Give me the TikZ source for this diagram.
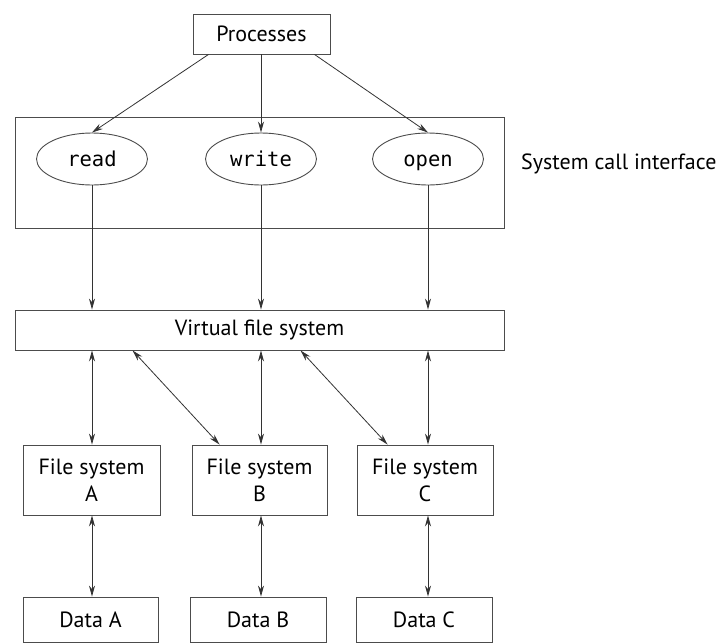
\documentclass[tikz,border=0pt]{standalone}
\usepackage{fontspec}
\setmainfont{PT Sans}
\setmonofont{DejaVu Sans Mono}
\usetikzlibrary{arrows.meta,shapes.geometric}
\tikzset{
  box/.style={draw=black!70,line width=0.9pt,rectangle,inner sep=0pt,align=center,font=\fontsize{22}{27}\selectfont},
  call/.style={draw=black!70,line width=0.9pt,ellipse,inner sep=0pt,minimum width=111pt,minimum height=52pt,text height=15pt,text depth=0pt,font=\ttfamily\fontsize{20.5}{24}\selectfont},
  arr/.style={draw=black!80,line width=0.8pt,-{Stealth[length=11pt,width=6pt]}},
  biarr/.style={draw=black!80,line width=0.8pt,{Stealth[length=11pt,width=6pt]}-{Stealth[length=11pt,width=6pt]}},
  lbl/.style={font=\fontsize{22}{27}\selectfont,anchor=base west,inner sep=0pt}
}
\begin{document}
\begin{tikzpicture}[x=1pt,y=-1pt]
\useasboundingbox (0,0) rectangle (726,643);
\fill[white] (0,0) rectangle (726,643);
\node[box,minimum width=137pt,minimum height=40pt] (proc) at (261.5,34) {Processes};
\node[box,minimum width=489pt,minimum height=111pt] (sci) at (259.5,172.5) {};
\node[call] (read) at (92,159) {read};
\node[call] (write) at (261,159) {write};
\node[call] (open) at (428,159) {open};
\node[lbl] (scil) at (521,169) {System call interface};
\node[box,minimum width=489pt,minimum height=40pt] (vfs) at (259.5,330) {Virtual file system};
\node[box,minimum width=137pt,minimum height=70pt] (fsa) at (91.5,480) {File system\\A};
\node[box,minimum width=135pt,minimum height=70pt] (fsb) at (259.5,480) {File system\\B};
\node[box,minimum width=136pt,minimum height=70pt] (fsc) at (425,480) {File system\\C};
\node[box,minimum width=135pt,minimum height=45pt] (da) at (90.5,619.5) {Data A};
\node[box,minimum width=136pt,minimum height=45pt] (db) at (258,619.5) {Data B};
\node[box,minimum width=136pt,minimum height=45pt] (dc) at (424,619.5) {Data C};
% processes to calls
\draw[arr] ([xshift=-53pt]proc.south) -- (read.north);
\draw[arr] (proc.south -| write.north) -- (write.north);
\draw[arr] ([xshift=53pt]proc.south) -- (open.north);
% calls to vfs
\draw[arr] (read.south) -- (read.south |- vfs.north);
\draw[arr] (write.south) -- (write.south |- vfs.north);
\draw[arr] (open.south) -- (open.south |- vfs.north);
% vfs to file systems
\draw[biarr] (read.south |- vfs.south) -- (read.south |- fsa.north);
\draw[biarr] (write.south |- vfs.south) -- (write.south |- fsb.north);
\draw[biarr] (open.south |- vfs.south) -- (open.south |- fsc.north);
\draw[biarr] ([xshift=118pt]vfs.south west) -- ([xshift=28pt]fsb.north west);
\draw[biarr] ([xshift=286pt]vfs.south west) -- ([xshift=31pt]fsc.north west);
% file systems to data
\draw[biarr] (read.south |- fsa.south) -- (read.south |- da.north);
\draw[biarr] (write.south |- fsb.south) -- (write.south |- db.north);
\draw[biarr] (open.south |- fsc.south) -- (open.south |- dc.north);
\end{tikzpicture}
\end{document}
